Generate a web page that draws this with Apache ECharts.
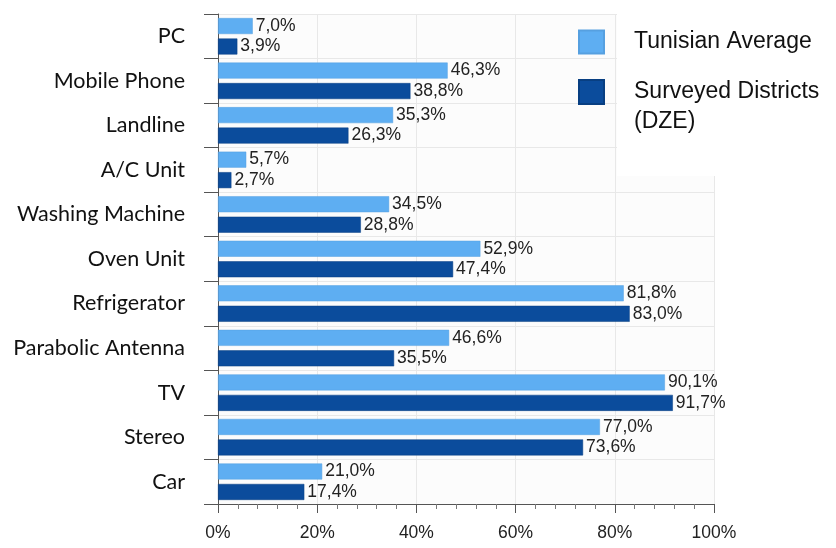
<!DOCTYPE html>
<html>
<head>
<meta charset="utf-8">
<script src="https://cdn.jsdelivr.net/npm/echarts@6/dist/echarts.min.js"></script>
<style>
  html, body { margin: 0; padding: 0; background: #ffffff; }
  #main { width: 836px; height: 548px; }
</style>
</head>
<body>
<div id="main"></div>
<script>
// categories, top to bottom
var categories = ['PC', 'Mobile Phone', 'Landline', 'A/C Unit', 'Washing Machine', 'Oven Unit',
  'Refrigerator', 'Parabolic Antenna', 'TV', 'Stereo', 'Car'];
// Tunisian average (%)
var tunisianAvg = [7.0, 46.3, 35.3, 5.7, 34.5, 52.9, 81.8, 46.6, 90.1, 77.0, 21.0];
// surveyed districts DZE (%)
var surveyed = [3.9, 38.8, 26.3, 2.7, 28.8, 47.4, 83.0, 35.5, 91.7, 73.6, 17.4];
var xTicks = [0, 20, 40, 60, 80, 100];

var lightBlue = '#5eaef2';
var darkBlue = '#0b4c9c';

var chart = echarts.init(document.getElementById('main'));

function pct(v) {
  return v.toFixed(1).replace('.', ',') + '%';
}

var valueLabel = {
  show: true,
  position: 'right',
  distance: 3,
  fontFamily: 'Liberation Sans, Arial, sans-serif',
  fontSize: 17.5,
  color: '#222',
  formatter: function (p) { return pct(p.value); }
};

var option = {
  backgroundColor: '#ffffff',
  grid: {
    left: 218,
    right: 122,
    top: 14,
    bottom: 44,
    show: true,
    backgroundColor: '#fcfcfc',
    borderWidth: 0
  },
  graphic: [{
    type: 'rect',
    left: 617,
    top: 0,
    z: 5,
    shape: { width: 219, height: 176 },
    style: { fill: '#ffffff' }
  }],
  legend: [
    {
      left: 578,
      top: 27,
      padding: 0,
      z: 10,
      itemWidth: 25,
      itemHeight: 23,
      icon: 'rect',
      data: ['Tunisian Average'],
      textStyle: {
        fontFamily: 'Liberation Sans, Arial, sans-serif',
        fontSize: 23,
        color: '#111',
        lineHeight: 30,
        padding: [0, 0, 0, 25]
      }
    },
    {
      left: 578,
      top: 47,
      padding: 0,
      z: 10,
      itemWidth: 25,
      itemHeight: 24,
      icon: 'rect',
      data: ['Surveyed Districts (DZE)'],
      // blank first line so that "Surveyed Districts" sits level with the icon
      formatter: function (n) { return ' \n' + n.replace(' (', '\n('); },
      textStyle: {
        fontFamily: 'Liberation Sans, Arial, sans-serif',
        fontSize: 23,
        color: '#111',
        lineHeight: 30,
        padding: [0, 0, 0, 25]
      }
    }
  ],
  xAxis: {
    type: 'value',
    min: 0,
    max: 100,
    interval: 20,
    axisLine: { show: true, lineStyle: { color: '#555', width: 1 } },
    axisTick: { show: true, length: 9, lineStyle: { color: '#555' } },
    minorTick: { show: true, splitNumber: 5, length: 5, lineStyle: { color: '#777' } },
    splitLine: { show: true, lineStyle: { color: '#e8e8e8' } },
    axisLabel: {
      margin: 20,
      fontFamily: 'Liberation Sans, Arial, sans-serif',
      fontSize: 17.5,
      color: '#222',
      formatter: function (v) { return xTicks.indexOf(v) >= 0 ? v + '%' : ''; }
    }
  },
  yAxis: {
    type: 'category',
    inverse: true,
    data: categories,
    axisLine: { show: true, lineStyle: { color: '#555' } },
    axisTick: { show: true, length: 14, lineStyle: { color: '#555' } },
    splitLine: { show: true, lineStyle: { color: '#e8e8e8' } },
    axisLabel: {
      margin: 33,
      fontFamily: 'Lato, sans-serif',
      fontSize: 21.5,
      color: '#111'
    }
  },
  series: [
    {
      name: 'Tunisian Average',
      type: 'bar',
      data: tunisianAvg,
      barWidth: 16,
      barGap: '28%',
      itemStyle: { color: lightBlue, borderColor: '#56a0e0', borderWidth: 0.5 },
      label: valueLabel
    },
    {
      name: 'Surveyed Districts (DZE)',
      type: 'bar',
      data: surveyed,
      barWidth: 16,
      itemStyle: { color: darkBlue, borderColor: '#083f82', borderWidth: 0.5 },
      label: valueLabel
    }
  ]
};

chart.setOption(option);
</script>
</body>
</html>
